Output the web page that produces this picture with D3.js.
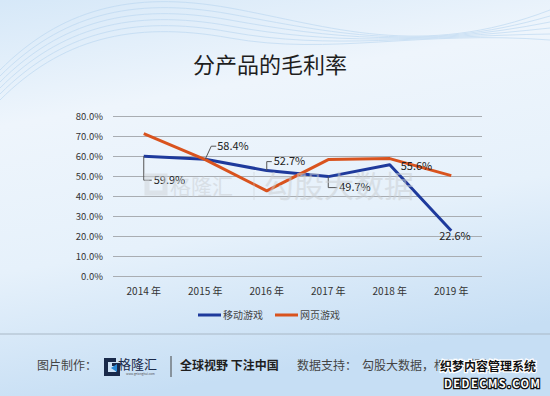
<!DOCTYPE html>
<html>
<head>
<meta charset="utf-8">
<script src="https://cdn.jsdelivr.net/npm/d3@7"></script>
<style>
  body { margin: 0; background: #fff; }
  text { font-family: "Noto Sans CJK SC", "Noto Sans", sans-serif; }
</style>
</head>
<body>
<div id="chart"></div>
<script>
// data
const years = ["2014 年", "2015 年", "2016 年", "2017 年", "2018 年", "2019 年"];
const mobile = [59.9, 58.4, 52.7, 49.7, 55.6, 22.6];
const web = [71.2, 58.2, 42.6, 58.2, 58.7, 50.2];
const yTicks = [0, 10, 20, 30, 40, 50, 60, 70, 80];
const seriesNames = ["移动游戏", "网页游戏"];
const colors = ["#1e3a9c", "#d9531e"];

const width = 550, height = 396;
const margin = { top: 116, right: 68, bottom: 120, left: 113 };
const innerW = width - margin.left - margin.right;
const innerH = height - margin.top - margin.bottom;

const svg = d3.select("#chart").append("svg")
  .attr("width", width)
  .attr("height", height);

// background gradient
const defs = svg.append("defs");
const bg = defs.append("linearGradient").attr("id", "bg")
  .attr("x1", 0).attr("y1", 0).attr("x2", 0.25).attr("y2", 1);
bg.append("stop").attr("offset", "0%").attr("stop-color", "#d6e8f8");
bg.append("stop").attr("offset", "30%").attr("stop-color", "#eef5fc");
bg.append("stop").attr("offset", "65%").attr("stop-color", "#e6f1fb");
bg.append("stop").attr("offset", "100%").attr("stop-color", "#c6def4");
svg.append("rect").attr("width", width).attr("height", height).attr("fill", "url(#bg)");

// faint wave lines at the top
const waves = svg.append("g").attr("fill", "none").attr("stroke", "#b8d6f1").attr("opacity", 0.6);
[0, 6, 12, 18, 24, 30].forEach(function (d) {
  waves.append("path")
    .attr("stroke-width", 1)
    .attr("d", `M0,${70 + d} C60,${10 + d} 130,${-10 + d} 230,${8 + d} S420,${60 - d} 550,${10 + d}`);
});

svg.append("text")
  .attr("x", 270)
  .attr("y", 73)
  .attr("text-anchor", "middle")
  .attr("font-size", "22px")
  .attr("fill", "#1e1e1e")
  .text("分产品的毛利率");

const g = svg.append("g").attr("transform", `translate(${margin.left},${margin.top})`);

const x = d3.scaleBand().domain(years).range([0, innerW]);
const y = d3.scaleLinear().domain([0, 80]).range([innerH, 0]);
const cx = (d) => x(d) + x.bandwidth() / 2;

// gridlines + y labels
const yAxis = g.append("g")
  .call(d3.axisLeft(y).tickValues(yTicks).tickSize(-innerW).tickFormat((d) => d.toFixed(1) + "%"));
yAxis.select(".domain").remove();
yAxis.selectAll(".tick line").attr("stroke", "#a9adb2").attr("stroke-width", 1.2);
yAxis.selectAll(".tick text").attr("x", -10).attr("font-size", "9.5px").attr("fill", "#333")
  .attr("font-family", "Liberation Sans, Arial, sans-serif");

const xAxis = g.append("g")
  .attr("transform", `translate(0,${innerH})`)
  .call(d3.axisBottom(x).tickSize(0));
xAxis.select(".domain").remove();
xAxis.selectAll(".tick text").attr("dy", "1.55em").attr("font-size", "10px").attr("fill", "#333");

// watermark
const wm = svg.append("g").attr("opacity", 0.5);
wm.append("rect").attr("x", 147).attr("y", 176).attr("width", 18).attr("height", 17)
  .attr("fill", "none").attr("stroke", "#d0d4d8").attr("stroke-width", 5);
wm.append("text").attr("x", 170).attr("y", 194).attr("font-size", "21px").attr("fill", "#c9cdd1")
  .text("格隆汇");
wm.append("line").attr("x1", 254).attr("x2", 254).attr("y1", 172).attr("y2", 200)
  .attr("stroke", "#c9cdd1").attr("stroke-width", 1);
wm.append("text").attr("x", 264).attr("y", 197).attr("font-size", "30px").attr("fill", "#c9cdd1")
  .text("勾股大数据");

// lines
const line = d3.line().x((d, i) => cx(years[i])).y((d) => y(d));
[mobile, web].forEach(function (s, i) {
  g.append("path")
    .datum(s)
    .attr("fill", "none")
    .attr("stroke", colors[i])
    .attr("stroke-width", 3)
    .attr("stroke-linejoin", "round")
    .attr("d", line);
});

// labels for mobile games, with small leader lines
const labelOffsets = [
  { dx: 10, dy: 24, leader: "v" },
  { dx: 12, dy: -13, leader: "d" },
  { dx: 7, dy: -9, leader: "v" },
  { dx: 11, dy: 11, leader: "v" },
  { dx: 11, dy: 1, leader: null },
  { dx: -12, dy: 5, leader: null },
];
const labels = g.append("g");
mobile.forEach(function (v, i) {
  const px = cx(years[i]), py = y(v), o = labelOffsets[i];
  if (o.leader === "v") {
    labels.append("path").attr("fill", "none").attr("stroke", "#555").attr("stroke-width", 1)
      .attr("d", `M${px},${py} V${py + o.dy} H${px + o.dx - 2}`);
  } else if (o.leader === "d") {
    labels.append("path").attr("fill", "none").attr("stroke", "#555").attr("stroke-width", 1)
      .attr("d", `M${px},${py} L${px + 6},${py + o.dy} H${px + o.dx - 1}`);
  }
  labels.append("text")
    .attr("x", px + o.dx)
    .attr("y", py + o.dy)
    .attr("dy", "0.35em")
    .attr("font-size", "11px")
    .attr("fill", "#222")
    .attr("font-family", "Liberation Sans, Arial, sans-serif")
    .text(v.toFixed(1) + "%");
});

// legend
const legend = svg.append("g").attr("transform", "translate(198,315)");
const legendX = [0, 77];
seriesNames.forEach(function (name, i) {
  legend.append("line")
    .attr("x1", legendX[i]).attr("x2", legendX[i] + 23)
    .attr("stroke", colors[i]).attr("stroke-width", 3);
  legend.append("text")
    .attr("x", legendX[i] + 25).attr("dy", "0.35em")
    .attr("font-size", "10px").attr("fill", "#444")
    .text(name);
});

// separator and footer
svg.append("line").attr("x1", 0).attr("x2", width).attr("y1", 334).attr("y2", 334)
  .attr("stroke", "#a9b8c6").attr("stroke-width", 1);

const footer = svg.append("g").attr("font-size", "12px").attr("fill", "#333");
footer.append("text").attr("x", 37).attr("y", 370).attr("fill", "#444").text("图片制作：");
footer.append("path").attr("d", "M104,358 h12 v4 h-8 v10 h8 v-6 h-4 v-3 h8 v13 h-16 z").attr("fill", "#1a2a4a");
footer.append("path").attr("d", "M111,368 l6,-4 v8 z").attr("fill", "#2a8ad8");
footer.append("text").attr("x", 118).attr("y", 369).attr("font-size", "13px").attr("fill", "#1a2a4a").text("格隆汇");
footer.append("text").attr("x", 126).attr("y", 375).attr("font-size", "3px").attr("fill", "#555").text("www.gelonghui.com");
footer.append("line").attr("x1", 171).attr("x2", 171).attr("y1", 356).attr("y2", 377)
  .attr("stroke", "#444").attr("stroke-width", 1);
footer.append("text").attr("x", 180).attr("y", 370).attr("font-weight", "bold").attr("fill", "#1e1e1e")
  .text("全球视野 下注中国");
footer.append("text").attr("x", 297).attr("y", 370).attr("fill", "#444").text("数据支持：");
footer.append("text").attr("x", 362).attr("y", 370).attr("fill", "#444").text("勾股大数据，根据年报整理");

// site watermark, bottom right
const site = svg.append("g");
site.append("text").attr("x", 440).attr("y", 371).attr("font-size", "12px").attr("font-weight", "bold")
  .attr("fill", "#111").attr("stroke", "#fff").attr("stroke-width", 2.5).attr("paint-order", "stroke")
  .text("织梦内容管理系统");
site.append("text").attr("x", 444).attr("y", 388).attr("font-size", "11px").attr("font-weight", "bold")
  .attr("letter-spacing", "1.5px").attr("font-family", "DejaVu Sans Mono, monospace")
  .attr("fill", "#fff").attr("stroke", "#111").attr("stroke-width", 2.5).attr("paint-order", "stroke")
  .text("DEDECMS.COM");
</script>
</body>
</html>
